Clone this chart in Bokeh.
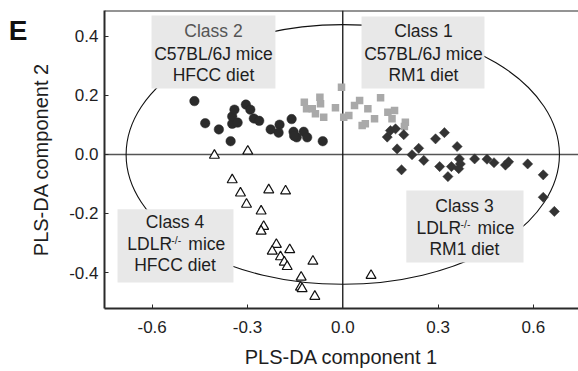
from bokeh.plotting import figure
from bokeh.models import Range1d, FixedTicker, NumeralTickFormatter, Span, BoxAnnotation, Label, LinearAxis
from bokeh.embed import file_html
from bokeh.resources import INLINE

# ---- data ----
class1_x = [-0.121, -0.114, -0.096, -0.072, -0.070, -0.086, -0.060, -0.023, -0.004, 0.003, 0.019,
            0.037, 0.053, 0.061, 0.071, 0.079, 0.100, 0.119, 0.142, 0.163, 0.155, 0.197, 0.194]
class1_y = [0.177, 0.155, 0.155, 0.194, 0.172, 0.138, 0.126, 0.158, 0.228, 0.126, 0.132,
            0.166, 0.183, 0.098, 0.104, 0.155, 0.121, 0.192, 0.143, 0.149, 0.121, 0.109, 0.095]

class2_x = [-0.467, -0.433, -0.390, -0.353, -0.348, -0.348, -0.341, -0.331, -0.305, -0.291, -0.280,
            -0.263, -0.227, -0.199, -0.202, -0.161, -0.155, -0.145, -0.153, -0.123, -0.112, -0.063]
class2_y = [0.181, 0.106, 0.085, 0.045, 0.104, 0.129, 0.152, 0.108, 0.169, 0.152, 0.122,
            0.114, 0.085, 0.101, 0.074, 0.120, 0.077, 0.058, 0.063, 0.077, 0.058, 0.045]

class3_x = [0.140, 0.150, 0.166, 0.192, 0.171, 0.185, 0.218, 0.239, 0.255, 0.292, 0.320, 0.305, 0.331,
            0.342, 0.360, 0.367, 0.370, 0.365, 0.415, 0.454, 0.476, 0.512, 0.522, 0.582, 0.631, 0.631, 0.666]
class3_y = [0.059, 0.081, 0.087, 0.067, 0.019, -0.052, -0.001, 0.021, -0.020, 0.053, 0.074, -0.041, -0.075,
            -0.041, 0.027, -0.015, -0.032, -0.048, -0.015, -0.016, -0.028, -0.036, -0.025, -0.032, -0.069,
            -0.145, -0.193]

class4_x = [-0.404, -0.299, -0.348, -0.322, -0.303, -0.233, -0.180, -0.257, -0.249, -0.257, -0.209,
            -0.222, -0.167, -0.196, -0.184, -0.175, -0.094, -0.131, -0.133, -0.128, -0.088, 0.089]
class4_y = [-0.003, 0.011, -0.086, -0.131, -0.169, -0.120, -0.124, -0.192, -0.244, -0.260, -0.305,
            -0.328, -0.323, -0.347, -0.365, -0.380, -0.362, -0.416, -0.450, -0.455, -0.481, -0.410]

# confidence ellipse (centre and full axes)
ellipse_cx, ellipse_cy = 0.0, 0.0
ellipse_w, ellipse_h = 1.364, 0.88

x_ticks = [-0.6, -0.3, 0.0, 0.3, 0.6]
y_ticks = [-0.4, -0.2, 0.0, 0.2, 0.4]
x_title = "PLS-DA component 1"
y_title = "PLS-DA component 2"
panel_letter = "E"

FONT = "Liberation Sans"
TXT = "#1e1e1e"

p = figure(width=578, height=371, output_backend="svg", toolbar_location=None,
           x_range=Range1d(-0.750, 0.742), y_range=Range1d(-0.522, 0.488),
           min_border_left=104, min_border_right=0, min_border_top=10, min_border_bottom=63)
p.outline_line_color = None
p.grid.visible = False
p.background_fill_color = "white"
p.border_fill_color = "white"

for ax in (p.xaxis[0], p.yaxis[0]):
    ax.axis_line_color = "#2a2a2a"
    ax.axis_line_width = 2
    ax.major_tick_in = 4
    ax.major_tick_out = 0
    ax.major_tick_line_color = "#2a2a2a"
    ax.minor_tick_line_color = None
    ax.major_label_text_font = FONT
    ax.major_label_text_font_size = "17px"
    ax.major_label_text_color = TXT
    ax.axis_label_text_font = FONT
    ax.axis_label_text_font_size = "20px"
    ax.axis_label_text_font_style = "normal"
    ax.axis_label_text_color = TXT
    ax.formatter = NumeralTickFormatter(format="0.0")

p.xaxis.ticker = FixedTicker(ticks=x_ticks)
p.yaxis.ticker = FixedTicker(ticks=y_ticks)
p.xaxis.axis_label = x_title
p.yaxis.axis_label = y_title
p.xaxis.major_label_standoff = 12
p.xaxis.axis_label_standoff = 10
p.yaxis.major_label_standoff = 6
p.yaxis.axis_label_standoff = 14

# panel letter: the single tick label of an extra, invisible left axis
letter_y = 0.42
letter_axis = LinearAxis(ticker=FixedTicker(ticks=[letter_y]),
                         major_label_overrides={letter_y: panel_letter},
                         axis_line_color=None, major_tick_line_color=None, minor_tick_line_color=None,
                         major_tick_in=0, major_tick_out=0, major_label_standoff=0,
                         major_label_text_font=FONT, major_label_text_font_size="28px",
                         major_label_text_font_style="bold", major_label_text_color="#111111")
p.add_layout(letter_axis, "left")

# frame top line and zero lines
p.add_layout(Span(location=0.488, dimension="width", line_color="#2a2a2a", line_width=2))
p.add_layout(Span(location=0, dimension="width", line_color="#555555", line_width=1.6, level="underlay"))
p.add_layout(Span(location=0, dimension="height", line_color="#111111", line_width=1.3, level="underlay"))

# ellipse
p.ellipse(x=[ellipse_cx], y=[ellipse_cy], width=[ellipse_w], height=[ellipse_h],
          fill_color=None, line_color="#111111", line_width=1.1)

# points
p.scatter(class2_x, class2_y, marker="circle", size=9.5, fill_color="#2b2b2b", line_color="#2b2b2b", line_width=0.5)
p.scatter(class1_x, class1_y, marker="square", size=7.5, fill_color="#a9a9a9", line_color=None)
p.scatter(class3_x, class3_y, marker="square", size=7.2, angle=0.785398, fill_color="#333333", line_color="#333333", line_width=0.5)
p.scatter(class4_x, class4_y, marker="triangle", size=10, fill_color="white", line_color="#111111", line_width=1.2)

# label boxes
BOX = "#e8e8e8"
boxes = [(-0.602, -0.212, 0.471, 0.224), (0.059, 0.446, 0.468, 0.224),
         (-0.709, -0.344, -0.186, -0.434), (0.200, 0.569, -0.122, -0.366)]
for l, r, t, b in boxes:
    p.add_layout(BoxAnnotation(left=l, right=r, top=t, bottom=b, fill_color=BOX, fill_alpha=1.0, line_color=None))

def lab(x, y, text, size="17.5px", color=TXT, align="center", xo=0, yo=0):
    p.add_layout(Label(x=x, y=y, text=text, text_font=FONT, text_font_size=size, text_color=color,
                       text_align=align, text_baseline="middle", x_offset=xo, y_offset=yo))

lab(-0.407, 0.417, "Class 2", color="#555555")
lab(-0.407, 0.341, "C57BL/6J mice")
lab(-0.407, 0.271, "HFCC diet")

lab(0.254, 0.417, "Class 1")
lab(0.254, 0.341, "C57BL/6J mice")
lab(0.254, 0.271, "RM1 diet")

lab(-0.528, -0.229, "Class 4")
lab(-0.678, -0.303, "LDLR", align="left")
lab(-0.678, -0.303, "-/-", size="10.5px", align="left", xo=44, yo=4)
lab(-0.678, -0.303, "mice", align="left", xo=61)
lab(-0.528, -0.376, "HFCC diet")

lab(0.383, -0.175, "Class 3")
lab(0.232, -0.249, "LDLR", align="left")
lab(0.232, -0.249, "-/-", size="10.5px", align="left", xo=44, yo=4)
lab(0.232, -0.249, "mice", align="left", xo=61)
lab(0.383, -0.321, "RM1 diet")

open("out.html", "w").write(file_html(p, INLINE))
